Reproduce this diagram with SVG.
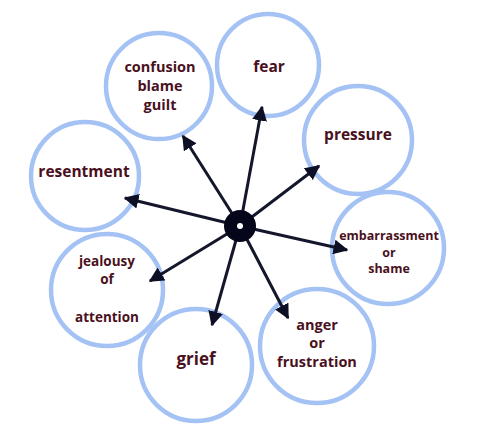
<svg xmlns="http://www.w3.org/2000/svg" width="479" height="442" viewBox="0 0 479 442">
<style>
.c{fill:#fff;stroke:#a4c2f4;stroke-width:4.5}
.t{font-family:"Open Sans","Liberation Sans",sans-serif;font-weight:bold;fill:#4a1020;text-anchor:middle}
.e{stroke:#14162b;stroke-width:3;fill:none}
</style>
<defs>
<marker id="ah" viewBox="0 0 10 10" refX="9" refY="5" markerWidth="5" markerHeight="5" orient="auto" markerUnits="strokeWidth">
<path d="M0,0 L10,5 L0,10 z" fill="#0d1025"/>
</marker>
</defs>
<rect width="479" height="442" fill="#fff"/>
<g id="n-confusion"><circle class="c" cx="159" cy="86" r="53"/><text class="t" font-size="14.5"><tspan x="160" y="72">confusion</tspan><tspan x="160" y="91">blame</tspan><tspan x="160" y="110">guilt</tspan></text></g>
<g id="n-fear"><circle class="c" cx="268" cy="65" r="51"/><text class="t" font-size="15.5" x="269" y="72">fear</text></g>
<g id="n-pressure"><circle class="c" cx="358" cy="140" r="54"/><text class="t" font-size="15.5" x="358" y="140">pressure</text></g>
<g id="n-embarrassment"><circle class="c" cx="388" cy="248" r="56"/><text class="t" font-size="12.5"><tspan x="389" y="240">embarrassment</tspan><tspan x="389" y="257">or</tspan><tspan x="389" y="273">shame</tspan></text></g>
<g id="n-resentment"><circle class="c" cx="85" cy="176" r="54"/><text class="t" font-size="15.5" x="84" y="177">resentment</text></g>
<g id="n-jealousy"><circle class="c" cx="107" cy="290" r="56"/><text class="t" font-size="13.5"><tspan x="107" y="266">jealousy</tspan><tspan x="107" y="284">of</tspan><tspan x="107" y="322">attention</tspan></text></g>
<g id="n-grief"><circle class="c" cx="196" cy="365" r="56"/><text class="t" font-size="17" x="196" y="365">grief</text></g>
<g id="n-anger"><circle class="c" cx="317" cy="346" r="57"/><text class="t" font-size="14.5"><tspan x="317" y="330">anger</tspan><tspan x="317" y="348">or</tspan><tspan x="317" y="367">frustration</tspan></text></g>
<g id="connectors">
<line class="e" x1="240" y1="226" x2="183" y2="136" marker-end="url(#ah)"/>
<line class="e" x1="240" y1="226" x2="262" y2="107" marker-end="url(#ah)"/>
<line class="e" x1="240" y1="226" x2="319" y2="166" marker-end="url(#ah)"/>
<line class="e" x1="240" y1="226" x2="347" y2="250" marker-end="url(#ah)"/>
<line class="e" x1="240" y1="226" x2="125" y2="198" marker-end="url(#ah)"/>
<line class="e" x1="240" y1="226" x2="150" y2="281" marker-end="url(#ah)"/>
<line class="e" x1="240" y1="226" x2="212" y2="325" marker-end="url(#ah)"/>
<line class="e" x1="240" y1="226" x2="288" y2="318" marker-end="url(#ah)"/>
</g>
<g id="hub"><circle cx="240" cy="226" r="16" fill="#05061a"/><circle cx="240" cy="226" r="3" fill="#fff"/></g>
</svg>
